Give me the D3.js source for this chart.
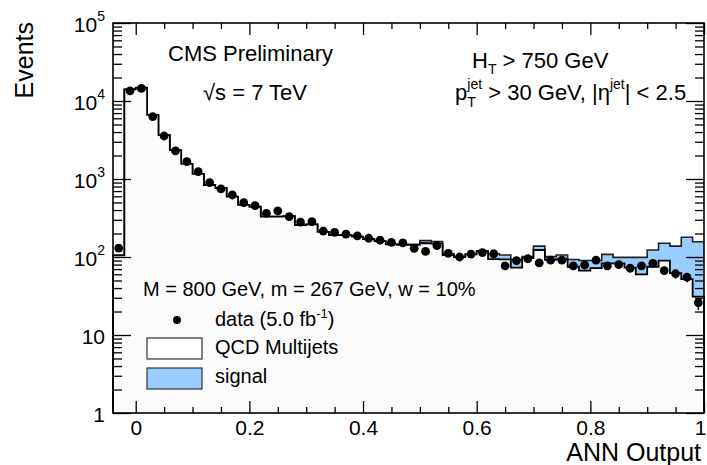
<!DOCTYPE html>
<html><head><meta charset="utf-8">
<script src="https://cdn.jsdelivr.net/npm/d3@7"></script>
<style>
body{margin:0;background:#fff;}
svg{display:block;}
text{font-family:"Liberation Sans",Arial,Helvetica,sans-serif;fill:#000;}
</style>
</head><body>
<svg id="chart" width="707" height="465"></svg>
<script>
// ---- data ----
const binCenters = [-0.03,-0.01,0.01,0.03,0.05,0.07,0.09,0.11,0.13,0.15,0.17,0.19,0.21,0.23,0.25,0.27,0.29,0.31,0.33,0.35,0.37,0.39,0.41,0.43,0.45,0.47,0.49,0.51,0.53,0.55,0.57,0.59,0.61,0.63,0.65,0.67,0.69,0.71,0.73,0.75,0.77,0.79,0.81,0.83,0.85,0.87,0.89,0.91,0.93,0.95,0.97,0.99];
const dataEvents = [130,13500,14500,6300,3560,2300,1670,1240,900,745,624,497,455,363,389,329,280,284,215,207,197,187,174,164,154,152,129,118,140,111,100,109,114,110,77,90,95,84,91,91,77,79,91,77,80,72,77,83,67,61,55,26];
const qcdEvents = [105,14100,14800,6620,3660,2350,1560,1160,838,767,593,465,441,329,329,335,257,262,210,191,191,182,170,160,145,143,143,150,148,106,100,108,118,94,93,73,97,123,92,94,75,67,72,83,83,73,60,75,90,62,52,31];
const signalEvents = [0,0,0,0,0,0,0,0,0,0,0,0,0,0,0,0,0,0,0,0,0,0,0,0,1,2,3,12,10,4,1,1,2,16,13,20,4,15,9,12,18,23,18,25,16,26,39,48,60,76,127,126];
const xTicks = [0,0.2,0.4,0.6,0.8,1];
const xTickLabels = ["0","0.2","0.4","0.6","0.8","1"];
const xMinorTicks = [0.05,0.1,0.15,0.25,0.3,0.35,0.45,0.5,0.55,0.65,0.7,0.75,0.85,0.9,0.95];
const yDecades = [1,10,100,1000,10000,100000];
const yTickBase = ["1","10","10","10","10","10"];
const yTickExp = ["","","2","3","4","5"];

// ---- layout ----
const L = 113, R = 704, T = 23, B = 413, W = 707;
const svg = d3.select("#chart");
const x = d3.scaleLinear().domain([-0.04, 1.0]).range([L, R]);
const y = d3.scaleLog().domain([1, 1e5]).range([B, T]);
const binW = binCenters[1] - binCenters[0];

const qcdBins = binCenters.map((c,i)=>({x0:c-binW/2, x1:c+binW/2, v:qcdEvents[i]}));
const totBins = binCenters.map((c,i)=>({x0:c-binW/2, x1:c+binW/2, v:qcdEvents[i]+signalEvents[i]}));
function stepPts(bins){
  const pts=[];
  bins.forEach(b=>{pts.push([b.x0,b.v]);pts.push([b.x1,b.v]);});
  return pts;
}
const area = d3.area().x(d=>x(d[0])).y0(B).y1(d=>y(d[1]));
const line = d3.line().x(d=>x(d[0])).y(d=>y(d[1]));

const g = svg.append("g");
// signal stacked on QCD
g.append("path").attr("d", area(stepPts(totBins))).attr("fill","#99ccff");
g.append("path").attr("d", line(stepPts(totBins))).attr("fill","none").attr("stroke","#222").attr("stroke-width",1.6);
// QCD
g.append("path").attr("d", area(stepPts(qcdBins))).attr("fill","#fbfbfb");
const qp = stepPts(qcdBins);
qp.unshift([binCenters[0]-binW/2, 1]);
qp.push([binCenters[binCenters.length-1]+binW/2, 1]);
g.append("path").attr("d", line(qp)).attr("fill","none").attr("stroke","#000").attr("stroke-width",1.8);

// data points with sqrt(N) errors
const pts = g.append("g");
binCenters.forEach((c,i)=>{
  const n = dataEvents[i], e = Math.sqrt(n);
  pts.append("line").attr("x1",x(c)).attr("x2",x(c)).attr("y1",y(n+e)).attr("y2",y(Math.max(n-e,1.01)))
    .attr("stroke","#000").attr("stroke-width",1.5);
  pts.append("circle").attr("cx",x(c)).attr("cy",y(n)).attr("r",4.4).attr("fill","#000");
});

// ---- axes (ticks inside) ----
const yMinor = [];
[1,10,100,1000,10000].forEach(d=>{for(let k=2;k<=9;k++) yMinor.push(d*k);});
function styleAxis(sel){ sel.select(".domain").remove(); sel.selectAll("line").attr("stroke","#000").attr("stroke-width",1.3); }

svg.append("g").attr("transform",`translate(0,${B})`)
  .call(d3.axisBottom(x).tickValues(xMinorTicks).tickSize(-6).tickFormat("")).call(styleAxis);
const xAx = svg.append("g").attr("transform",`translate(0,${B})`)
  .call(d3.axisBottom(x).tickValues(xTicks).tickSize(-12).tickPadding(7).tickFormat((d,i)=>xTickLabels[i]));
styleAxis(xAx);
xAx.selectAll("text").attr("font-size",21).attr("font-family","'Liberation Sans',Arial,sans-serif").attr("fill","#000");
// keep the last label ("1") inside the window edge
xAx.selectAll(".tick").filter(d=>x(d)+7>W).select("text").attr("text-anchor","end").attr("x",W-1-x(1)+0);

svg.append("g").attr("transform",`translate(0,${T})`)
  .call(d3.axisTop(x).tickValues(xMinorTicks).tickSize(-6).tickFormat("")).call(styleAxis);
svg.append("g").attr("transform",`translate(0,${T})`)
  .call(d3.axisTop(x).tickValues(xTicks).tickSize(-12).tickFormat("")).call(styleAxis);

svg.append("g").attr("transform",`translate(${L},0)`)
  .call(d3.axisLeft(y).tickValues(yMinor).tickSize(-9).tickFormat("")).call(styleAxis);
svg.append("g").attr("transform",`translate(${L},0)`)
  .call(d3.axisLeft(y).tickValues(yDecades).tickSize(-18).tickFormat("")).call(styleAxis);
svg.append("g").attr("transform",`translate(${R},0)`)
  .call(d3.axisRight(y).tickValues(yMinor).tickSize(-9).tickFormat("")).call(styleAxis);
svg.append("g").attr("transform",`translate(${R},0)`)
  .call(d3.axisRight(y).tickValues(yDecades).tickSize(-18).tickFormat("")).call(styleAxis);

// y labels
yDecades.forEach((d,i)=>{
  const t = svg.append("text").attr("x",105).attr("y",y(d)+9).attr("text-anchor","end").attr("font-size",21);
  t.append("tspan").text(yTickBase[i]);
  if(yTickExp[i]) t.append("tspan").attr("dy",-11).attr("font-size",14).text(yTickExp[i]);
});

// frame
svg.append("rect").attr("x",L).attr("y",T).attr("width",R-L).attr("height",B-T)
  .attr("fill","none").attr("stroke","#000").attr("stroke-width",1.6);

// axis titles
svg.append("text").attr("transform",`translate(33,22) rotate(-90)`).attr("text-anchor","end")
  .attr("font-size",25).text("Events");
svg.append("text").attr("x",701).attr("y",461).attr("text-anchor","end").attr("font-size",25).text("ANN Output");

// annotations
svg.append("text").attr("x",168).attr("y",61).attr("font-size",22).text("CMS Preliminary");
svg.append("text").attr("x",203).attr("y",100).attr("font-size",22).text("√s = 7 TeV");
const ht = svg.append("text").attr("x",472).attr("y",68).attr("font-size",22);
ht.append("tspan").text("H");
ht.append("tspan").attr("dy",6).attr("font-size",14).text("T");
ht.append("tspan").attr("dy",-6).text(" > 750 GeV");
const pt = svg.append("text").attr("x",455).attr("y",100).attr("font-size",22);
pt.append("tspan").text("p");
pt.append("tspan").attr("dy",7).attr("font-size",14).text("T");
pt.append("tspan").attr("dx",-8.5).attr("dy",-18).attr("font-size",14).text("jet");
pt.append("tspan").attr("dy",11).text(" > 30 GeV, |η");
pt.append("tspan").attr("dy",-11).attr("font-size",14).text("jet");
pt.append("tspan").attr("dy",11).text("| < 2.5");

// legend
svg.append("text").attr("x",143).attr("y",296).attr("font-size",20).text("M = 800 GeV, m = 267 GeV, w = 10%");
svg.append("circle").attr("cx",177).attr("cy",320).attr("r",4).attr("fill","#000");
const dl = svg.append("text").attr("x",215).attr("y",326).attr("font-size",20);
dl.append("tspan").text("data (5.0 fb");
dl.append("tspan").attr("dy",-8).attr("font-size",13).text("-1");
dl.append("tspan").attr("dy",8).text(")");
svg.append("rect").attr("x",147).attr("y",338).attr("width",55).attr("height",21).attr("fill","#fff").attr("stroke","#333").attr("stroke-width",1.2);
svg.append("text").attr("x",215).attr("y",354).attr("font-size",20).text("QCD Multijets");
svg.append("rect").attr("x",147).attr("y",368).attr("width",55).attr("height",21).attr("fill","#99ccff").attr("stroke","#333").attr("stroke-width",1.2);
svg.append("text").attr("x",215).attr("y",383).attr("font-size",20).text("signal");
</script>
</body></html>
